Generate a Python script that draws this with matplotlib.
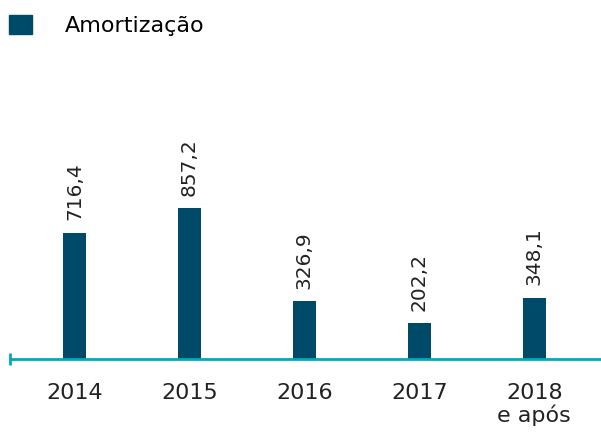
import matplotlib.pyplot as plt
from matplotlib.patches import Patch

years = ["2014", "2015", "2016", "2017", "2018\ne após"]
values = [716.4, 857.2, 326.9, 202.2, 348.1]
labels = ["716,4", "857,2", "326,9", "202,2", "348,1"]

bar_color = "#004a69"
axis_color = "#00a9bd"

fig = plt.figure(figsize=(6.01, 4.32), dpi=100)
ax = fig.add_axes([10 / 601, 73 / 432, 591 / 601, 264 / 432])

x = list(range(len(values)))
ax.bar(x, values, width=0.2, color=bar_color)
for xi, v, lab in zip(x, values, labels):  # rotated value labels
    ax.annotate(lab, (xi, v), xytext=(0, 9), textcoords="offset points",
                rotation=90, ha="center", va="bottom", fontsize=14.5, color="#222222")

ax.set_xlim(-0.56, 4.58)
ax.set_ylim(0, 1500)
for s in ["top", "right", "left"]:
    ax.spines[s].set_visible(False)
ax.spines["bottom"].set_color(axis_color)
ax.spines["bottom"].set_linewidth(2)
ax.plot([-0.56], [0], marker="|", markersize=8, markeredgewidth=2, color=axis_color, clip_on=False)

ax.set_yticks([])
ax.set_xticks(x)
ax.set_xticklabels(years, fontsize=16, color="#222222", linespacing=1.05)
ax.tick_params(axis="x", length=0, pad=17.5)

ax.legend(handles=[Patch(color=bar_color, label="Amortização")],
          loc="upper left", bbox_to_anchor=(9 / 601, 1 - 15 / 432), bbox_transform=fig.transFigure,
          frameon=False, fontsize=16, handlelength=1.05, handleheight=0.95,
          handletextpad=1.45, borderpad=0, borderaxespad=0)

fig.savefig("out.png", dpi=100)
